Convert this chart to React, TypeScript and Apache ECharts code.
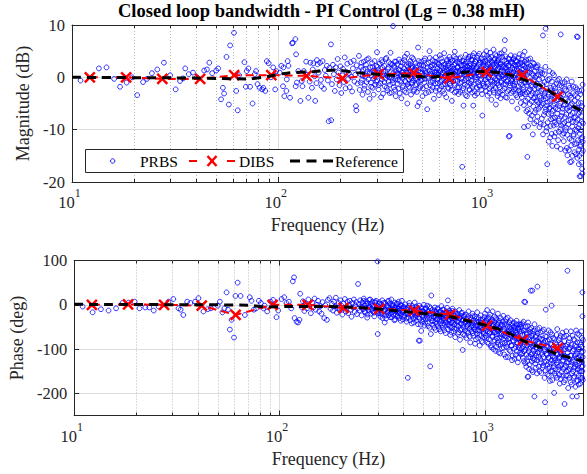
import React, { useEffect, useRef } from 'react';
import * as echarts from 'echarts';

const FONT = 'Liberation Serif';
const AX = '#262626';

const title = 'Closed loop bandwidth - PI Control (Lg = 0.38 mH)';
const xName = 'Frequency (Hz)';
const magName = 'Magnitude (dB)';
const phaseName = 'Phase (deg)';
const legendNames = ['PRBS', 'DIBS', 'Reference'];

const minorFreqs = [20, 30, 40, 50, 60, 70, 80, 90, 200, 300, 400, 500, 600, 700, 800, 900, 2000];

const dibsFreq = [12.2, 18.3, 27.4, 41.8, 61.1, 92.5, 137, 205, 306, 452, 676, 1023, 1529, 2260];
const dibsMag = [0, 0, -0.3, -0.3, 0.4, 0.4, 0.3, -0.2, 0.6, 0.8, -0.2, 1.0, 0.4, -3.7];
const dibsPhase = [0, 1, 0, -2, -23, 0, 0, -7, -9, -13, -22, -47, -80, -98];

const refMag = [[10,0],[30,-0.1],[50,-0.2],[70,-0.3],[90,0.2],[110,0.8],[150,1.1],[190,1.4],[240,0.9],[350,0.4],[450,0.25],[550,0],[680,0.7],[830,1.0],[1000,1.1],[1250,0.7],[1530,-0.4],[1900,-1.7],[2300,-3.9],[2700,-5.6],[3000,-6.5]];
const refPhase = [[10,1],[40,0],[70,-1],[85,-5],[110,-4],[160,-4],[240,-6],[360,-13],[560,-22],[700,-28],[850,-38],[1060,-49],[1280,-62],[1530,-81],[1900,-98],[2300,-113],[3000,-127]];

const prbsMag = [
[11.0,-0.6],[13.5,1.7],[14.7,1.9],[16.0,-0.3],[17.1,-1.8],[18.4,-1.0],[19.6,0],[20.7,-3.4],[22.1,-0.9],[23.1,-0.3],[24.4,0.8],[25.9,1.5],[27.9,2.8],[29.9,0.4],[31.8,-2.3],[33.4,-0.7],[34.5,-0.2],[35.4,1.7],[36.8,0.6],[38.6,0.9],[40.3,0],[43.7,1.3],[45.1,1.5],[46.3,2.8],[47.8,0.8],[50,1.3],[51.1,1.7],[52.8,-4.2],[53.9,-2],[54.6,-3.1],[56.1,3.9],[57.6,-5.2],[58.4,6.1],[61,8.5],[62.5,-2.6],[63.6,-6.3],[64.6,0.4],[68.5,2.9],[69.6,-1.8],[70.3,1.2],[71.6,1.7],[73,-1.8],[75,-5],[76.9,0.6],[78,1.2],[79.3,-1.3],[81.1,-2],[83.5,-2.3],[84.6,-2],[86.5,-2.6],[88,3.1],[89.8,2.7],[92.1,0],[94.4,1.9],[96.6,-2.3],[97.7,1.2],[101.7,0.9],[103.4,2.2],[105.4,-1.7],[106,1.9],[107,-3.6],[109.5,-2.6],[110,-0.4],[111,3.1],[112,2.2],[114,-3.9],[116.7,6.5],[117.6,6.6],[121,7.3],[121.5,-1.7],[122,4.4],[123,-1],[125,1.2],
[128,-4.5],[130,-0.7],[131,-1.7],[133,1.2],[136.5,3],[138,0.5],[140,-3.9],[142,-0.8],[143,2.8],[145.6,-2],[147,1.5],[148,2.7],[150,0.2],[151,-4.5],[153,-1.1],[154,3.3],[155,2.5],[157,0.9],[159.5,2.8],[161,-0.5],[162,-1.7],[164,3.1],[166.5,-2.2],[168,1.4],[170,0.3],[172,2.2],[174,-0.6],[175.5,-8.4],[177,1.8],[180,6.3],[180.5,-8.2],[182,-1.3],[184,2.4],[186,0.6],[188,-2.6],[190,1.9],[192,-0.4],[194,3.5],[196,0.9],[198,-1.5],[200,2.1],[202,-3.0],[204,0.4],[206,1.6],[208,-0.9],[210,3.8],[212,-2.1],[214,1.0],[216,2.6],[218,-0.3],[220,0.8],[222,-1.9],[224,2.9],[226,0.1],[228,-2.7],[230,1.7],[232,3.2],[234,-0.8],[236,0.5],[238,-5.5],[239,-6.3],[240,2.3],[242,-1.2],[244,1.2],[246,4.1],[248,-2.4],[250,0.6],[252,2.0],[254,-0.5],[256,-3.3],[258,1.5],[260,3.0],[262,-1.6],[264,0.2],[266,2.4],[268,-0.9],[270,1.1],[272,-2.8],[274,3.6],[276,0.7],[277,-4.1],[279,1.9],[281,-1.0],[283,0.4],[285,2.7],[287,-2.0],[289,1.3],[291,-0.2],[293,3.1],[295,-1.4],[297,0.9],[299,2.2],
[251,-1.0],[253,2.8],[257,0.3],[261,-2.2],[265,1.6],[269,3.4],[273,-0.4],[278,0.9],[282,-1.8],[286,2.0],[290,-3.3],[294,1.2],[298,-0.8],
[301,4.8],[302,-0.6],[304,1.4],[306,-2.3],[308,0.9],[310,2.6],[312,-1.1],[314,0.3],[316,3.3],[318,-0.4],[320,1.8],[322,-3.1],[324,0.6],[326,2.2],[328,-1.7],[330,1.1],[332,-0.2],[334,3.7],[336,0.4],[338,-2.5],[340,1.6],[342,-0.8],[344,2.9],[346,0.0],[348,-1.4],[350,4.7],[352,1.0],[354,-2.9],[356,2.4],[358,-0.5],[360,9.8],[361,0.8],[363,-1.9],[365,1.9],[367,3.0],[369,-0.3],[371,-3.6],[373,1.3],[375,0.2],[377,2.5],[379,-1.2],[381,0.7],[383,-2.2],[385,3.4],[387,1.5],[389,-0.7],[391,0.4],[393,2.1],[395,-4.0],[397,1.0],[399,-0.1],[401,2.8],[403,-1.6],[405,0.5],[407,1.7],[409,-2.6],[411,3.9],[413,0.3],[415,-0.9],[417,1.2],[419,2.3],[421,4.5],[422,-5.0],[424,-1.3],[426,0.9],[428,2.6],[430,-0.4],[432,1.4],[434,-2.0],[436,3.1],[438,0.0],[440,-3.3],[442,1.8],[444,0.6],[446,-1.1],[448,2.0],[450,-0.6],[452,3.5],[454,1.1],[456,-2.4],[458,0.2],[460,1.5],[462,-1.5],[464,2.7],[466,-0.3],[468,0.8],[470,-2.8],[473,-5.5],[476,5.7],[478,1.3],[480,-0.8],[482,-4.8],[484,2.4],[486,0.1],[488,-1.8],[490,1.7],[493,3.0],[496,-0.5],[499,0.9],[502,-2.1],[505,2.2],[508,0.4],[511,-1.0],[514,3.6],[517,1.2],[520,-3.0],[523,0.6],[527,-6.1],[530,1.9],[533,-0.2],[536,2.8],[541,5.0],[544,-1.5],[547,0.7],[550,2.0],[553,-2.5],[556,1.1],[559,3.3],[562,-0.7],[565,0.3],[568,-4.1],[571,2.4],[574,1.0],[577,-1.2],[580,3.8],[583,0.5],[586,-2.0],[589,1.6],[592,-0.4],[595,2.6],[598,0.9],[601,-3.4],[604,1.4],[607,4.2],[610,-0.9],[613,0.2],[616,2.1],[619,-1.7],[622,3.0],[625,0.6],[628,-2.6],[631,1.8],[634,-0.1],[637,4.6],[640,1.2],[643,-1.3],[646,2.5],[649,0.4],[652,-3.8],[655,1.5],[658,3.4],[661,-0.6],[664,0.8],[667,2.2],[670,-2.2],[673,1.0],[676,3.9],[679,-0.3],[682,1.7],[685,-1.6],[688,2.9],[691,0.5],[694,-4.5],[697,1.3],[700,3.2],[704,-0.8],[708,0.7],[712,2.4],[716,-2.9],[717,4.9],[720,1.1],[724,-0.5],[728,3.6],[732,0.2],[736,-1.9],[740,2.0],[744,1.0],[748,-3.2],[752,2.7],[756,0.4],[760,-1.1],[764,3.8],[768,1.5],[772,-0.2],[776,2.3],[779,-17.1],[782,-2.5],[786,1.2],[790,-5.4],[794,3.1],[798,0.6],[802,-1.4],[806,2.6],[810,4.3],[814,-0.3],[818,1.4],[822,-3.6],[826,2.1],[830,0.9],[834,3.5],[838,-1.0],[842,1.8],[846,-2.3],[850,4.0],[854,0.3],[858,2.5],[862,-0.7],[866,1.3],[870,3.3],[874,-1.8],[878,0.8],[881,-5.4],[884,2.2],[888,4.6],[892,0.1],[896,-2.7],[900,1.6],[905,3.0],[910,-0.4],[915,2.0],[920,-3.1],[925,1.0],[930,4.1],[935,0.5],[940,-1.5],[945,2.8],[950,1.3],[955,-0.6],[960,3.6],[965,-2.4],[970,1.9],[975,-7.3],[980,0.7],[985,2.9],[990,-1.2],[995,4.4],
[303,2.0],[307,-1.5],[311,0.6],[315,-3.8],[319,2.9],[323,1.1],[327,-0.9],[331,3.5],[335,-2.0],[339,0.2],[343,1.9],[347,-3.0],[351,2.6],[355,0.0],[359,-1.1],[364,2.2],[368,-2.4],[372,3.0],[376,0.8],[380,-0.5],[384,1.4],[388,-3.0],[392,2.9],[396,0.3],[400,-1.9],[404,1.1],[408,3.3],[412,-0.7],[416,-2.9],[420,0.9],[425,2.0],[429,-1.8],[433,0.4],[437,2.5],[441,-1.0],[445,3.8],[449,0.6],[453,-2.7],[457,1.6],[461,-0.2],[465,2.1],[469,-1.3],[474,0.5],[479,3.1],[483,-2.1],[487,1.0],[491,-0.6],[495,2.3],[500,-3.6],[504,1.5],[509,3.2],[513,-0.3],[518,0.9],[522,-1.7],[526,2.6],[531,0.1],[535,-2.8],[539,1.3],[543,3.7],[548,-0.9],[552,0.4],[557,2.3],[561,-1.9],[566,1.7],[570,-0.2],[575,3.0],[579,-2.6],[584,1.0],[588,2.8],[593,-1.1],[597,0.5],[602,2.5],[606,-2.3],[611,1.2],[615,3.6],[620,-0.5],[624,0.9],[629,-1.4],[633,2.4],[638,-3.1],[642,0.3],[647,1.9],[651,-0.8],[656,3.1],[660,1.3],[665,-2.0],[669,2.7],[674,0.1],[678,-1.2],[683,3.4],[687,1.0],[692,-2.4],[696,2.0],[701,-0.1],[706,1.6],[711,4.0],[715,-1.5],[719,0.6],[723,2.6],[727,-2.7],[731,1.3],[735,3.0],[739,-0.7],[743,1.9],[747,0.0],[751,-1.9],[755,3.5],[759,1.2],[763,-2.8],[767,2.3],[771,0.6],[775,-0.9],[780,3.2],[784,1.5],[788,-2.1],[792,0.9],[796,2.4],[800,-0.6],[805,1.1],[809,-3.4],[813,3.0],[817,0.3],[821,2.1],[825,-1.6],[829,1.4],[833,-0.2],[837,3.9],[841,0.8],[845,-2.5],[849,2.2],[853,1.0],[857,-1.2],[861,3.4],[865,0.2],[869,-2.9],[873,1.9],[877,4.1],[882,0.6],[886,-1.4],[890,2.6],[894,1.2],[898,-3.5],[902,3.1],[907,0.0],[912,1.8],[917,-2.0],[922,3.7],[927,0.9],[932,-0.9],[937,2.4],[942,4.5],[947,-1.8],[952,0.4],[957,2.9],[962,-0.3],[967,1.5],[972,-3.2],[977,3.3],[982,1.0],[987,-1.6],[992,2.2],[997,0.3],
[1000,1.5],[1005,-1.8],[1010,3.2],[1015,0.4],[1020,5.0],[1025,-0.9],[1030,2.1],[1035,-3.5],[1040,1.0],[1045,3.8],[1050,0.0],[1055,-2.2],[1060,2.6],[1065,4.7],[1070,-0.5],[1075,1.7],[1080,-4.3],[1085,3.0],[1090,0.8],[1095,-1.4],[1100,2.4],[1105,5.3],[1110,-2.9],[1115,1.2],[1120,3.5],[1125,-0.3],[1130,0.9],[1135,-5.2],[1140,2.8],[1145,4.1],[1150,-1.1],[1155,1.5],[1160,-3.0],[1165,3.3],[1170,0.2],[1175,2.0],[1180,-1.9],[1185,4.5],[1190,0.6],[1195,-4.0],[1200,2.5],[1206,-0.7],[1212,1.3],[1218,3.9],[1224,-2.5],[1230,0.4],[1236,2.2],[1242,-1.3],[1248,5.2],[1254,7.1],[1260,0.0],[1265,-3.8],[1270,1.9],[1276,3.1],[1282,-0.8],[1288,1.0],[1294,-2.7],[1300,3.6],[1306,0.3],[1310,-11.3],[1316,2.3],[1322,-11.2],[1328,-1.6],[1334,1.4],[1340,4.2],[1346,-0.5],[1352,0.8],[1358,-4.6],[1364,2.7],[1370,-1.2],[1376,3.4],[1382,0.1],[1388,-2.3],[1394,1.6],[1400,4.0],[1407,-0.9],[1414,2.1],[1421,-3.4],[1428,0.6],[1435,3.0],[1442,-6.0],[1449,1.2],[1456,-1.7],[1463,2.5],[1470,-0.2],[1477,4.4],[1484,-2.8],[1491,0.9],[1498,-4.9],
[1002,3.0],[1007,-0.4],[1012,1.9],[1017,-2.6],[1022,0.8],[1027,4.1],[1032,-1.2],[1037,2.5],[1042,-0.1],[1047,1.4],[1052,3.6],[1057,-3.0],[1062,0.5],[1067,2.0],[1072,-1.8],[1077,3.9],[1082,0.9],[1087,-0.8],[1092,2.8],[1097,1.2],[1102,-2.4],[1107,0.2],[1112,3.3],[1117,-1.0],[1122,1.8],[1127,4.4],[1132,-2.0],[1137,0.7],[1142,2.3],[1147,-0.6],[1152,3.1],[1157,-3.6],[1162,1.6],[1167,-1.5],[1172,2.7],[1177,0.0],[1182,3.9],[1187,-2.8],[1192,1.1],[1197,2.5],[1203,-1.0],[1209,4.6],[1215,0.2],[1221,-3.3],[1227,2.0],[1233,1.1],[1239,-0.3],[1245,3.2],[1251,-2.1],[1257,1.7],[1263,4.0],[1268,-1.4],[1273,0.6],[1279,2.6],[1285,-3.9],[1291,1.3],[1297,-0.5],[1303,2.2],[1309,0.7],[1313,-2.4],[1319,3.5],[1325,1.0],[1331,-1.1],[1337,2.8],[1343,-3.0],[1349,0.3],[1355,3.0],[1361,-0.7],[1367,1.8],[1373,-2.7],[1379,0.9],[1385,3.6],[1391,-1.6],[1397,0.4],[1404,2.3],[1411,-2.2],[1418,3.2],[1425,-0.4],[1432,1.6],[1439,-3.8],[1446,2.4],[1453,0.0],[1460,3.7],[1467,-2.5],[1474,1.1],[1481,-1.0],[1488,2.6],[1495,-3.2],
[1505,2.8],[1512,-0.6],[1519,1.5],[1526,-3.0],[1533,4.2],[1540,0.3],[1547,-1.9],[1553,-9.5],[1556,2.2],[1563,4.9],[1570,-0.9],[1577,1.1],[1584,-4.5],[1591,3.3],[1598,-1.5],[1605,0.5],[1612,-15.2],[1618,-6.2],[1625,-9.3],[1632,2.0],[1640,-2.6],[1648,0.9],[1656,-5.1],[1664,3.6],[1672,-0.7],[1680,-3.4],[1688,1.7],[1696,-7.3],[1704,-1.8],[1714,-10.9],[1720,0.4],[1728,-4.0],[1736,2.6],[1744,-2.2],[1752,-6.7],[1760,0.0],[1768,-3.1],[1776,1.9],[1784,-8.4],[1792,-1.2],[1800,-4.7],[1810,2.3],[1820,-2.0],[1830,-6.0],[1840,-0.4],[1850,-3.6],[1860,1.0],[1870,-8.9],[1880,-2.6],[1890,-5.3],[1900,0.8],[1910,-1.5],[1919,8.0],[1920,-10.9],[1930,-4.2],[1940,-7.2],[1950,-0.9],[1960,-3.0],[1970,2.0],[1977,9.3],[1985,-6.1],[1995,-2.2],[2005,-9.6],[2013,-16.6],[2020,-4.8],[2030,-0.5],[2040,-7.0],[2050,-3.3],[2060,1.2],[2070,-5.8],[2080,-11.5],[2090,-2.5],[2100,-8.0],[2110,-4.1],[2120,-0.8],[2130,-13.1],[2140,-6.4],[2150,-3.0],[2160,-9.2],[2170,0.4],[2180,-5.0],[2190,-7.7],[2200,-2.1],[2212,-10.6],[2224,-4.4],[2236,-1.2],[2248,-6.9],[2260,-3.6],[2272,-12.0],[2284,-8.3],[2296,-0.3],[2308,-5.5],[2320,-2.8],[2332,-9.9],[2340,8.2],[2345,-4.0],[2358,-7.4],[2370,-1.7],[2382,-11.0],[2394,-6.0],[2406,-3.3],[2420,-12.2],[2432,-8.7],[2444,-0.9],[2456,-5.2],[2468,-10.1],[2480,-2.5],[2492,-7.1],[2504,-13.5],[2520,-14.9],[2530,-4.6],[2543,-9.0],[2556,-1.6],[2569,-6.4],[2582,-11.7],[2595,-3.5],[2600,-16.2],[2608,-8.0],[2621,-5.3],[2634,-13.0],[2640,-16.1],[2647,-0.8],[2660,-9.4],[2673,-6.8],[2686,-3.0],[2699,-11.2],[2712,-7.7],[2725,-14.3],[2738,-4.5],[2751,-10.0],[2764,-1.9],[2777,-8.6],[2790,-12.6],[2800,7.8],[2803,-5.8],[2816,-15.4],[2830,7.7],[2831,-3.8],[2844,-9.7],[2857,-7.0],[2870,-13.8],[2880,-15.0],[2883,-2.6],[2890,-18.9],[2896,-10.8],[2909,-6.2],[2922,-12.9],[2930,-18.9],[2935,-4.9],[2948,-16.3],[2961,-8.5],[2974,-11.5],[2980,-18.4],[2987,-1.4],[2995,-14.0],
[1502,-1.4],[1509,3.4],[1516,-3.8],[1523,0.8],[1530,2.3],[1537,-2.4],[1544,1.6],[1551,-5.3],[1559,0.0],[1566,3.0],[1573,-3.2],[1580,1.9],[1587,-1.0],[1594,-6.5],[1601,2.7],[1608,-2.9],[1615,0.9],[1622,-4.1],[1629,3.4],[1636,-0.9],[1644,-6.9],[1652,1.7],[1660,-2.3],[1668,-8.0],[1676,2.2],[1684,-1.5],[1692,-4.6],[1700,0.7],[1708,-3.0],[1716,2.8],[1724,-5.6],[1732,-0.6],[1740,-8.8],[1748,1.2],[1756,-3.8],[1764,-1.5],[1772,-6.2],[1780,0.3],[1788,-4.4],[1796,2.0],[1805,-7.5],[1815,-2.9],[1825,0.5],[1835,-4.9],[1845,-9.5],[1855,-1.7],[1865,-5.6],[1875,1.4],[1885,-3.9],[1895,-7.9],[1905,-0.2],[1915,-5.0],[1925,-2.4],[1935,-9.0],[1945,-3.6],[1955,0.6],[1965,-6.6],[1975,-4.0],[1990,-10.3],[2000,-1.3],[2010,-5.4],[2025,-8.6],[2035,-2.9],[2045,-12.3],[2055,-6.0],[2065,-0.3],[2075,-4.5],[2085,-9.3],[2095,-2.0],[2105,-6.9],[2115,-10.8],[2125,-3.5],[2135,0.8],[2145,-7.8],[2155,-5.4],[2165,-1.7],[2175,-11.3],[2185,-4.0],[2195,-8.6],[2206,-5.9],[2218,-2.7],[2230,-9.0],[2242,-13.2],[2254,-0.6],[2266,-6.1],[2278,-4.2],[2290,-10.4],[2302,-7.9],[2314,-1.5],[2326,-5.0],[2338,-13.7],[2351,-9.2],[2364,-3.0],[2376,-6.7],[2388,-1.1],[2400,-8.9],[2413,-5.4],[2426,-10.7],[2438,-2.2],[2450,-7.6],[2462,-14.0],[2474,-4.2],[2486,-9.6],[2498,-0.4],[2510,-6.0],[2525,-11.0],[2537,-3.2],[2550,-8.2],[2563,-13.9],[2576,-5.7],[2589,-2.0],[2602,-10.3],[2615,-7.2],[2628,-3.9],[2641,-12.0],[2654,-5.0],[2667,-15.0],[2680,-8.5],[2693,-1.8],[2706,-10.9],[2719,-5.9],[2732,-12.8],[2745,-3.4],[2758,-7.6],[2771,-14.7],[2784,-6.0],[2797,-10.2],[2810,-2.3],[2823,-8.1],[2837,-12.0],[2850,-4.9],[2863,-16.6],[2876,-9.0],[2889,-6.6],[2902,-13.2],[2915,-3.2],[2928,-10.1],[2941,-7.4],[2954,-14.5],[2967,-5.5],[2990,-12.3],[2998,-8.8],[2970,-17.5],[2955,-2.5],[2940,-11.8]
];

const prbsPhase = [
[11,-4],[12.3,-17],[13.5,-10],[14.7,-13],[16,-8],[17.2,4],[18.4,5],[19.7,7],[20.8,-8],[22.2,-6],[23.2,-6],[24.4,-13],[25.8,-4],[28.8,7],[30.4,13],[32.2,-8],[33,-11],[34,-23],[35.5,7],[36.8,4],[38.8,7],[40.3,15],[42.6,-15],[44.7,-10],[46.3,-8],[50,-2],[51.2,7],[52.7,-17],[53.9,-8],[55.2,28],[56.1,-11],[57.3,-56],[58.4,-34],[60,-74],[61,20],[62.5,50],[64.6,20],[67.8,-23],[71.6,17],[73,9],[75,-11],[76.9,-8],[79.3,9],[81.1,4],[83.5,-8],[84.6,-2],[87,-15],[90.5,7],[93,11],[96.6,-28],[98.5,-13],[102.3,13],[105.4,17],[108,4],[111,7],[114,-8],[116,53],[117.6,62],[118.3,-30],[121,-38],[123,-40],[125,-34],[126,25],
[128,-5],[130,8],[132,-14],[134,3],[136,-8],[138,12],[140,-2],[142,-19],[144,5],[146,-6],[148,14],[150,-11],[152,0],[154,9],[156,-15],[158,-3],[160,-20],[162,6],[165,-30],[167,-1],[170,-34],[172,11],[175,15],[177,-9],[180,2],[182,-13],[184,7],[186,-4],[188,16],[190,-18],[192,-7],[194,4],[196,-12],[198,10],[200,-2],[202,-22],[204,3],[206,-9],[208,13],[210,-15],[212,-5],[214,7],[216,-19],[218,0],[220,9],[222,-11],[224,-27],[226,4],[228,-6],[230,12],[232,-16],[234,-1],[236,6],[238,-21],[240,-8],[241,47],[243,2],[245,-13],[247,10],[249,-4],[251,-24],[253,5],[255,-10],[257,14],[259,-2],[261,-17],[263,8],[265,-7],[267,-29],[269,3],[271,-12],[273,11],[275,-5],[277,-20],[279,1],[281,-9],[283,7],[285,-15],[287,-3],[289,-26],[291,5],[293,-11],[295,9],[297,-6],[299,-18],
[252,-6],[256,9],[260,-15],[264,2],[268,-22],[272,-3],[276,12],[280,-12],[284,-1],[288,-18],[292,6],[296,-9],
[300,98],[300.5,-66],[302,-3],[304,-19],[306,6],[308,-12],[310,-27],[312,1],[314,-8],[316,10],[318,-22],[320,-4],[322,-15],[325,-40],[326,4],[328,-10],[330,-31],[332,-1],[334,-18],[336,8],[338,-6],[340,-24],[342,-13],[344,3],[346,-20],[348,-9],[350,12],[352,-28],[354,-3],[356,-16],[358,0],[360,-11],[362,-35],[364,5],[366,-7],[368,-21],[370,-14],[372,2],[374,-26],[376,-9],[378,-18],[380,7],[382,-4],[384,-30],[386,-12],[388,-1],[390,-23],[392,-8],[394,9],[396,-17],[398,-33],[400,-5],[403,-14],[406,-25],[409,1],[412,-10],[415,-38],[418,-19],[421,-165],[422,-6],[425,-29],[428,4],[431,-15],[434,-22],[437,-9],[440,-42],[443,-3],[446,-18],[449,-31],[452,-11],[455,5],[458,-24],[461,-14],[464,-36],[467,-7],[470,-20],[473,-28],[476,-81],[478,-2],[482,-81],[484,-16],[487,-45],[489,-59],[491,-9],[494,-25],[497,-13],[500,-33],[504,0],[508,-19],[512,-40],[516,-8],[520,-27],[524,-15],[528,-48],[532,-22],[536,-4],[541,-139],[545,-66],[548,21],[550,-30],[554,-12],[558,-37],[562,-20],[566,-52],[570,-6],[574,-26],[578,-16],[582,-43],[586,-31],[590,-10],[594,-23],[598,-55],[602,-35],[606,-14],[610,-28],[614,-3],[618,-46],[622,-19],[626,-32],[630,-11],[634,-58],[638,-25],[642,-39],[646,-17],[650,-29],[654,-7],[658,-44],[660,10],[663,-22],[667,-35],[671,-13],[675,-50],[679,-27],[683,-18],[687,-62],[691,-31],[695,-9],[699,-40],[704,-24],[709,-54],[714,-15],[719,-34],[724,-28],[729,-47],[734,-20],[739,-66],[744,-37],[749,-12],[754,-30],[759,-57],[764,-25],[769,-43],[774,-18],[779,-102],[780,-35],[785,-51],[790,-27],[796,-69],[802,-40],[808,-22],[814,-33],[820,-60],[826,-45],[832,-15],[838,-38],[844,-72],[850,-29],[856,-50],[862,-41],[868,-20],[874,-64],[880,-35],[886,-55],[892,-26],[898,-47],[904,-78],[910,-38],[916,-17],[922,-58],[928,-44],[934,-30],[940,-68],[946,-51],[952,-24],[958,-40],[964,-82],[970,-56],[976,-33],[982,-47],[988,-65],[994,-28],
[301,-14],[305,2],[309,-20],[313,-7],[317,-30],[321,4],[325,-12],[329,-24],[333,-3],[337,-16],[341,9],[345,-28],[349,-11],[353,-1],[357,-22],[361,-7],[365,-33],[369,-13],[373,3],[377,-25],[381,-9],[385,-18],[389,-36],[393,-2],[397,-14],[401,-27],[405,-6],[410,-19],[414,-31],[419,-10],[423,-21],[427,-2],[432,-35],[436,-14],[441,-25],[445,-7],[450,-40],[454,-17],[459,-29],[463,-4],[468,-22],[472,-44],[477,-12],[481,-32],[486,-20],[490,-6],[495,-38],[499,-15],[503,-27],[507,-47],[511,-10],[515,-33],[519,-21],[523,-2],[527,-41],[531,-15],[535,-29],[539,-52],[543,-8],[547,-23],[552,-36],[556,-17],[560,-45],[564,-26],[568,-13],[572,-39],[576,-57],[580,-21],[584,-33],[588,-8],[592,-48],[596,-27],[600,-17],[604,-42],[608,-60],[612,-24],[616,-36],[620,-11],[624,-52],[628,-30],[632,-20],[636,-45],[640,-34],[644,-64],[648,-15],[652,-40],[656,-27],[661,-55],[665,-18],[669,-46],[673,-33],[677,-68],[681,-23],[685,-41],[689,-52],[693,-14],[697,-36],[702,-60],[706,-29],[711,-44],[716,-73],[721,-21],[726,-53],[731,-38],[736,-26],[741,-48],[746,-62],[751,-31],[756,-79],[761,-42],[766,-19],[771,-56],[776,-35],[782,-66],[787,-45],[793,-24],[799,-58],[805,-37],[811,-75],[817,-48],[823,-28],[829,-63],[835,-42],[841,-54],[847,-85],[853,-33],[859,-60],[865,-47],[871,-26],[877,-70],[883,-51],[889,-40],[895,-88],[901,-57],[907,-31],[913,-65],[919,-46],[925,-75],[931,-38],[937,-58],[943,-92],[949,-48],[955,-34],[961,-70],[967,-52],[973,-85],[979,-40],[985,-61],[991,-74],[997,-45],
[1000,-20],[1006,-58],[1012,-36],[1018,-75],[1024,-12],[1030,-49],[1036,-30],[1042,-88],[1048,-43],[1054,-65],[1060,-22],[1066,-53],[1072,-96],[1078,-38],[1084,-70],[1090,-15],[1096,-57],[1102,-45],[1108,-83],[1114,-27],[1120,-62],[1126,-104],[1132,-48],[1138,-33],[1144,-76],[1150,-56],[1156,-20],[1162,-90],[1168,-41],[1174,-67],[1180,-52],[1186,-110],[1192,-30],[1197,-207],[1200,-73],[1207,-46],[1214,-85],[1221,-60],[1228,-25],[1235,-97],[1242,-55],[1249,-71],[1256,-38],[1263,-118],[1270,-64],[1277,-45],[1284,-88],[1291,-29],[1298,-77],[1305,-58],[1312,-102],[1319,-50],[1326,-68],[1333,-35],[1340,-92],[1347,-61],[1354,-125],[1361,-47],[1368,-80],[1375,-57],[1382,-40],[1389,-99],[1396,-70],[1403,-52],[1410,-113],[1417,-63],[1424,-36],[1431,-86],[1438,-74],[1445,-130],[1452,-55],[1459,-95],[1466,-44],[1473,-79],[1480,-108],[1487,-66],[1494,-50],
[1003,-40],[1009,-70],[1015,-52],[1021,-32],[1027,-85],[1033,-60],[1039,-45],[1045,-78],[1051,-28],[1057,-62],[1063,-40],[1069,-92],[1075,-55],[1081,-35],[1087,-72],[1093,-48],[1099,-100],[1105,-63],[1111,-39],[1117,-80],[1123,-52],[1129,-30],[1135,-95],[1141,-66],[1147,-44],[1153,-85],[1159,-60],[1165,-107],[1171,-36],[1177,-74],[1183,-55],[1189,-90],[1195,-45],[1203,-66],[1210,-98],[1217,-38],[1224,-78],[1231,-58],[1238,-112],[1245,-44],[1252,-86],[1259,-65],[1266,-32],[1273,-95],[1280,-72],[1287,-50],[1294,-118],[1301,-62],[1308,-85],[1315,-40],[1322,-76],[1329,-105],[1336,-55],[1343,-70],[1350,-92],[1357,-42],[1364,-115],[1371,-65],[1378,-83],[1385,-50],[1392,-122],[1399,-75],[1406,-58],[1413,-95],[1420,-44],[1427,-105],[1434,-68],[1441,-88],[1448,-52],[1455,-120],[1462,-76],[1469,-60],[1476,-98],[1483,-45],[1490,-85],[1497,-112],
[1500,-82],[1508,-45],[1516,-110],[1524,-68],[1532,-95],[1540,-38],[1548,-127],[1553,7],[1556,-76],[1564,-58],[1570,6],[1572,-102],[1580,-85],[1588,-140],[1596,-62],[1604,-92],[1612,-163],[1618,-48],[1625,-162],[1626,-118],[1634,-73],[1642,-99],[1650,-135],[1658,-55],[1666,-87],[1670,32],[1674,-112],[1682,-70],[1690,-148],[1698,-93],[1700,32],[1706,-60],[1714,-121],[1722,-80],[1730,-104],[1740,-207],[1742,-44],[1750,-90],[1758,-133],[1766,-72],[1774,-115],[1782,-96],[1790,-155],[1800,41],[1801,-64],[1810,-108],[1820,-84],[1830,-140],[1840,-52],[1850,-100],[1860,-123],[1870,-77],[1880,-154],[1890,-92],[1900,-112],[1910,-60],[1920,-137],[1930,-86],[1940,-105],[1950,-165],[1960,-220],[1970,-71],[1977,-11],[1985,-128],[1995,-95],[2005,-113],[2013,-157],[2020,-82],[2030,-144],[2040,-58],[2050,-120],[2060,-100],[2070,-172],[2080,-88],[2090,-133],[2100,-108],[2110,-2],[2120,-67],[2130,-150],[2140,-117],[2150,-95],[2160,-139],[2170,-199],[2180,-78],[2190,-125],[2200,-104],[2212,-160],[2224,-90],[2236,-131],[2248,-55],[2260,-112],[2272,-146],[2284,-98],[2296,-120],[2300,-158],[2308,-75],[2320,-138],[2332,-107],[2340,-167],[2345,-88],[2358,-152],[2370,-115],[2382,-63],[2394,-128],[2406,-100],[2420,-175],[2432,-82],[2440,-224],[2444,-141],[2456,-118],[2468,-93],[2480,-160],[2492,-70],[2504,-130],[2520,77],[2530,-108],[2540,-188],[2543,-148],[2556,-85],[2569,-123],[2582,-165],[2595,-97],[2608,-138],[2621,-60],[2634,-115],[2647,-180],[2660,-207],[2673,-104],[2686,-150],[2699,-78],[2712,-128],[2725,-162],[2738,-92],[2751,-140],[2764,-112],[2777,-58],[2790,-172],[2800,-207],[2803,-121],[2816,-85],[2830,-172],[2831,-145],[2844,-100],[2857,-160],[2870,-68],[2883,-132],[2896,-115],[2909,-178],[2922,-90],[2935,-150],[2948,-125],[2961,-75],[2974,-165],[2980,28],[2981,-26],[2987,-138],[2995,-105],
[1504,-60],[1512,-98],[1520,-42],[1528,-120],[1536,-80],[1544,-58],[1552,-105],[1560,-90],[1568,-132],[1576,-50],[1584,-75],[1592,-112],[1600,-66],[1608,-128],[1616,-85],[1622,-40],[1630,-105],[1638,-145],[1646,-78],[1654,-62],[1662,-118],[1670,-95],[1678,-52],[1686,-128],[1694,-80],[1702,-110],[1710,-152],[1718,-66],[1726,-92],[1734,-125],[1746,-58],[1754,-110],[1762,-82],[1770,-142],[1778,-70],[1786,-100],[1794,-125],[1805,-55],[1815,-88],[1825,-118],[1835,-75],[1845,-150],[1855,-95],[1865,-62],[1875,-130],[1885,-108],[1895,-78],[1905,-142],[1915,-90],[1925,-118],[1935,-56],[1945,-130],[1955,-100],[1965,-82],[1975,-148],[1990,-110],[2000,-72],[2010,-135],[2025,-95],[2035,-120],[2045,-160],[2055,-78],[2065,-140],[2075,-105],[2085,-62],[2095,-150],[2105,-125],[2115,-90],[2125,-170],[2135,-110],[2145,-75],[2155,-132],[2165,-100],[2175,-155],[2185,-120],[2195,-85],[2206,-145],[2218,-110],[2230,-68],[2242,-165],[2254,-125],[2266,-95],[2278,-140],[2290,-80],[2302,-118],[2314,-178],[2326,-100],[2338,-70],[2351,-135],[2364,-110],[2376,-160],[2388,-92],[2400,-125],[2413,-145],[2426,-72],[2438,-115],[2450,-170],[2462,-100],[2474,-138],[2486,-60],[2498,-150],[2510,-118],[2522,-90],[2535,-160],[2548,-130],[2561,-100],[2574,-75],[2587,-145],[2600,-115],[2613,-175],[2626,-90],[2639,-130],[2652,-155],[2665,-70],[2678,-125],[2691,-165],[2704,-100],[2717,-142],[2730,-80],[2743,-115],[2756,-185],[2769,-135],[2782,-95],[2795,-155],[2808,-110],[2821,-65],[2834,-138],[2847,-120],[2860,-180],[2873,-100],[2886,-150],[2899,-85],[2912,-125],[2925,-165],[2938,-108],[2951,-140],[2964,-95],[2977,-150],[2990,-118],[2998,-80],[2993,-170],[2967,-130],[2945,-60]
];

const GRIDS = [
  { left: 72, top: 25, width: 511, height: 157 },
  { left: 72, top: 260.5, width: 511, height: 155 },
];

function minorRender(params: any, api: any) {
  const cs = params.coordSys;
  const px = Math.round(api.coord([api.value(0), api.value(1)])[0]) + 0.5;
  const y0 = cs.y;
  const y1 = cs.y + cs.height;
  return {
    type: 'group',
    children: [
      { type: 'line', shape: { x1: px, y1: y0, x2: px, y2: y1 }, style: { stroke: '#b8b8b8', lineWidth: 1, lineDash: [1, 2] } },
      { type: 'line', shape: { x1: px, y1: y1, x2: px, y2: y1 - 3 }, style: { stroke: AX, lineWidth: 1 } },
      { type: 'line', shape: { x1: px, y1: y0, x2: px, y2: y0 + 3 }, style: { stroke: AX, lineWidth: 1 } },
    ],
  };
}

function xAxes(gi: number) {
  const base = {
    type: 'log', logBase: 10, min: 10, max: 3000, gridIndex: gi,
    axisLine: { show: true, onZero: false, lineStyle: { color: AX, width: 1 } },
    axisTick: { show: true, inside: true, length: 5, lineStyle: { color: AX } },
    minorTick: { show: false },
  };
  return [
    {
      ...base, position: 'bottom',
      name: xName, nameLocation: 'middle', nameGap: 34,
      nameTextStyle: { fontFamily: FONT, fontSize: 18, color: AX },
      splitLine: { show: true, lineStyle: { color: '#dedede', width: 1 } },
      axisLabel: {
        show: true, margin: 5, showMaxLabel: false, color: AX,
        formatter: (v: number) => `{b|10}{s|${Math.round(Math.log10(v))}}`,
        rich: {
          b: { fontFamily: FONT, fontSize: 16.5, lineHeight: 24, verticalAlign: 'bottom', color: AX },
          s: { fontFamily: FONT, fontSize: 12, lineHeight: 24, verticalAlign: 'top', color: AX, padding: [0, 5, 0, 0] },
        },
      },
    },
    { ...base, position: 'top', splitLine: { show: false }, axisLabel: { show: false } },
  ];
}

function yAxes(gi: number, min: number, max: number, interval: number | undefined, name: string, gap: number) {
  const base: any = {
    type: 'value', min, max, gridIndex: gi,
    axisLine: { show: true, onZero: false, lineStyle: { color: AX, width: 1 } },
    axisTick: { show: true, inside: true, length: 5, lineStyle: { color: AX } },
  };
  if (interval !== undefined) base.interval = interval;
  return [
    {
      ...base, position: 'left',
      name, nameLocation: 'middle', nameGap: gap,
      nameTextStyle: { fontFamily: FONT, fontSize: 18, color: AX },
      splitLine: { show: true, lineStyle: { color: '#dedede', width: 1 } },
      axisLabel: { show: true, margin: 7, showMinLabel: interval !== undefined, fontFamily: FONT, fontSize: 16.5, color: AX },
    },
    { ...base, position: 'right', splitLine: { show: false }, axisLabel: { show: false } },
  ];
}

const xSym = 'path://M0,0L10,10M10,0L0,10';

function panelSeries(gi: number, prbs: number[][], dibs: number[], ref: number[][]) {
  const xi = gi * 2;
  const yi = gi * 2;
  return [
    {
      type: 'custom', xAxisIndex: xi, yAxisIndex: yi, silent: true, z: 1,
      renderItem: minorRender,
      data: minorFreqs.map((f) => [f, 0]),
    },
    {
      name: legendNames[0], type: 'scatter', xAxisIndex: xi, yAxisIndex: yi, z: 3,
      symbol: 'circle', symbolSize: 4.8,
      itemStyle: { color: 'rgba(0,0,0,0)', borderColor: '#0000ff', borderWidth: 1 },
      data: prbs,
    },
    {
      name: legendNames[1], type: 'line', xAxisIndex: xi, yAxisIndex: yi, z: 4,
      symbol: xSym, symbolSize: 10, showSymbol: true,
      lineStyle: { color: '#ff0000', width: 2, type: [8, 5] },
      itemStyle: { color: '#ff0000', borderColor: '#ff0000', borderWidth: 2.5 },
      data: dibsFreq.map((f, i) => [f, dibs[i]]),
    },
    {
      name: legendNames[2], type: 'line', xAxisIndex: xi, yAxisIndex: yi, z: 5,
      symbol: 'none', smooth: 0.3,
      lineStyle: { color: '#000000', width: 3, type: [9, 6] },
      data: ref,
    },
  ];
}

function legendGraphic() {
  const cy = 161;
  const ts = { fontFamily: FONT, fontSize: 15.5, fill: '#000', verticalAlign: 'middle' };
  return {
    type: 'group', z: 100,
    children: [
      { type: 'rect', z: 100, shape: { x: 85.5, y: 149.5, width: 318, height: 23 }, style: { fill: '#fff', stroke: AX, lineWidth: 1 } },
      { type: 'circle', z: 101, shape: { cx: 112.7, cy, r: 2.2 }, style: { fill: 'none', stroke: '#0000ff', lineWidth: 0.9 } },
      { type: 'text', z: 101, x: 140, y: cy, style: { ...ts, text: legendNames[0] } },
      { type: 'line', z: 101, shape: { x1: 189, y1: cy, x2: 197, y2: cy }, style: { stroke: '#ff0000', lineWidth: 2 } },
      { type: 'line', z: 101, shape: { x1: 227, y1: cy, x2: 235, y2: cy }, style: { stroke: '#ff0000', lineWidth: 2 } },
      { type: 'line', z: 101, shape: { x1: 207.5, y1: cy - 5, x2: 216.5, y2: cy + 5 }, style: { stroke: '#ff0000', lineWidth: 2.5 } },
      { type: 'line', z: 101, shape: { x1: 216.5, y1: cy - 5, x2: 207.5, y2: cy + 5 }, style: { stroke: '#ff0000', lineWidth: 2.5 } },
      { type: 'text', z: 101, x: 239, y: cy, style: { ...ts, text: legendNames[1] } },
      { type: 'line', z: 101, shape: { x1: 290, y1: cy, x2: 333, y2: cy }, style: { stroke: '#000', lineWidth: 3, lineDash: [10, 6.5] } },
      { type: 'text', z: 101, x: 335, y: cy, style: { ...ts, text: legendNames[2] } },
    ],
  };
}

export default function App() {
  const ref = useRef<HTMLDivElement>(null);
  useEffect(() => {
    if (!ref.current) return;
    const chart = echarts.init(ref.current, null, { renderer: 'svg' });
    chart.setOption({
      animation: false,
      backgroundColor: '#ffffff',
      textStyle: { fontFamily: FONT },
      title: {
        text: title, left: 118, top: 0, padding: 0,
        textStyle: { fontFamily: FONT, fontSize: 18.5, fontWeight: 'bold', color: '#000', lineHeight: 22 },
      },
      grid: GRIDS,
      xAxis: [...xAxes(0), ...xAxes(1)],
      yAxis: [
        ...yAxes(0, -20, 10, 10, magName, 33),
        ...yAxes(1, -250, 100, undefined, phaseName, 42),
      ],
      graphic: [legendGraphic()],
      series: [
        ...panelSeries(0, prbsMag, dibsMag, refMag),
        ...panelSeries(1, prbsPhase, dibsPhase, refPhase),
      ],
    });
    return () => chart.dispose();
  }, []);
  return <div ref={ref} style={{ position: 'absolute', left: 0, top: 0, width: 587, height: 474 }} />;
}
